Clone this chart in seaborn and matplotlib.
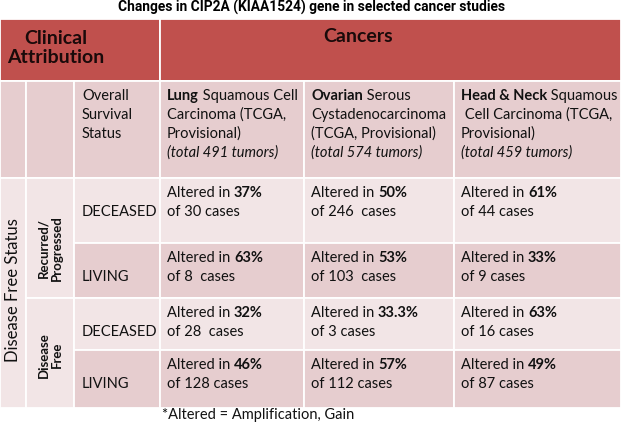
import matplotlib
matplotlib.use("Agg")
import matplotlib.pyplot as plt
from matplotlib.patches import Rectangle
import seaborn as sns

sns.set_theme(style="white")
plt.rcParams['font.family'] = ['Lato', 'DejaVu Sans']

# table content
title = "Changes in CIP2A (KIAA1524) gene in selected cancer studies"
footnote = "*Altered = Amplification, Gain"
status_labels = ["DECEASED", "LIVING", "DECEASED", "LIVING"]
group_labels = ["Recurred/\nProgressed", "Disease\nFree"]
study_bold = ["Lung", "Ovarian", "Head & Neck"]
study_lines = [
    [" Squamous Cell", "Carcinoma (TCGA,", "Provisional)"],
    [" Serous", "Cystadenocarcinoma", "(TCGA, Provisional)"],
    [" Squamous", " Cell Carcinoma (TCGA,", "Provisional)"],
]
study_totals = [491, 574, 459]
altered_pct = [
    ["37%", "63%", "32%", "46%"],
    ["50%", "53%", "33.3%", "57%"],
    ["61%", "33%", "63%", "49%"],
]
case_text = [
    ["of 30 cases", "of 8  cases", "of 28  cases", "of 128 cases"],
    ["of 246  cases", "of 103  cases", "of 3 cases", "of 112 cases"],
    ["of 44 cases", "of 9 cases", "of 16 cases", "of 87 cases"],
]

# layout (pixels)
col_x = [0, 26, 74, 160, 304, 454, 621]
row_y = [178, 243, 298, 350, 408]
head_top, head_bot = 19, 81

red = "#C0504D"
pink_dark = "#E6CDCF"
pink_light = "#F2E5E6"
txt = "#111111"
fs = 10.5

fig = plt.figure(figsize=(6.24, 4.24), dpi=100)
ax = fig.add_axes([0, 0, 1, 1])
ax.set_xlim(0, 624)
ax.set_ylim(424, 0)
ax.axis("off")


def cell(x0, x1, y0, y1, color):
    ax.add_patch(Rectangle((x0, y0), x1 - x0, y1 - y0, facecolor=color,
                           edgecolor="white", linewidth=1.3))


def runs(x, y, parts, size=fs):
    # parts: list of (text, weight, style) drawn one after another
    t = None
    for s, w, st in parts:
        if t is None:
            t = ax.text(x, y, s, fontsize=size, fontweight=w, fontstyle=st,
                        ha="left", va="center", color=txt)
        else:
            t = ax.annotate(s, xy=(1, 0), xycoords=t, fontsize=size,
                            fontweight=w, fontstyle=st, ha="left",
                            va="bottom", color=txt)
    return t


# header row
cell(0, col_x[3], head_top, head_bot, red)
cell(col_x[3], col_x[-1], head_top, head_bot, red)
ax.text(56, 48, "Clinical\nAttribution", fontsize=14, fontweight="bold",
        ha="center", va="center", linespacing=1.15, color="#1a0a0a")
ax.text(358, 37, "Cancers", fontsize=14, fontweight="bold",
        ha="center", va="center", color="#1a0a0a")

# sub header row
for i in range(6):
    cell(col_x[i], col_x[i + 1], head_bot, row_y[0], pink_dark)
for k, line in enumerate(["Overall", "Survival", "Status"]):
    runs(col_x[2] + 8, 96 + 19 * k, [(line, "normal", "normal")])
for j in range(3):
    x = col_x[3 + j] + 7
    runs(x, 96, [(study_bold[j], "bold", "normal"),
                 (study_lines[j][0], "normal", "normal")])
    runs(x, 115, [(study_lines[j][1], "normal", "normal")])
    runs(x, 134, [(study_lines[j][2], "normal", "normal")])
    runs(x, 153, [(f"(total {study_totals[j]} tumors)", "normal", "italic")])

# body
cell(col_x[0], col_x[1], row_y[0], row_y[-1], pink_light)
cell(col_x[1], col_x[2], row_y[0], row_y[2], pink_light)
cell(col_x[1], col_x[2], row_y[2], row_y[-1], pink_light)
ax.text(13, 290, "Disease Free Status", rotation=90, fontsize=12,
        ha="center", va="center", color=txt)
ax.text(50, 248, group_labels[0], rotation=90, fontsize=9.5,
        fontweight="bold", ha="center", va="center", linespacing=1.1,
        color=txt)
ax.text(50, 355, group_labels[1], rotation=90, fontsize=9.5,
        fontweight="bold", ha="center", va="center", linespacing=1.1,
        color=txt)

for r in range(4):
    y0, y1 = row_y[r], row_y[r + 1]
    color = pink_light if r % 2 == 0 else pink_dark
    for c in range(2, 6):
        cell(col_x[c], col_x[c + 1], y0, y1, color)
    runs(col_x[2] + 8, y0 + 34, [(status_labels[r], "normal", "normal")])
    for j in range(3):
        x = col_x[3 + j] + 7
        runs(x, y0 + 15, [("Altered in ", "normal", "normal"),
                          (altered_pct[j][r], "bold", "normal")])
        runs(x, y0 + 34, [(case_text[j][r], "normal", "normal")])

ax.text(162, 415, footnote, fontsize=fs, ha="left", va="center", color=txt)
ax.text(312, 7, title, fontsize=9.9, fontweight="bold", ha="center",
        va="center", color="black", family=["Roboto", "DejaVu Sans"])

fig.savefig("out.png", dpi=100)
